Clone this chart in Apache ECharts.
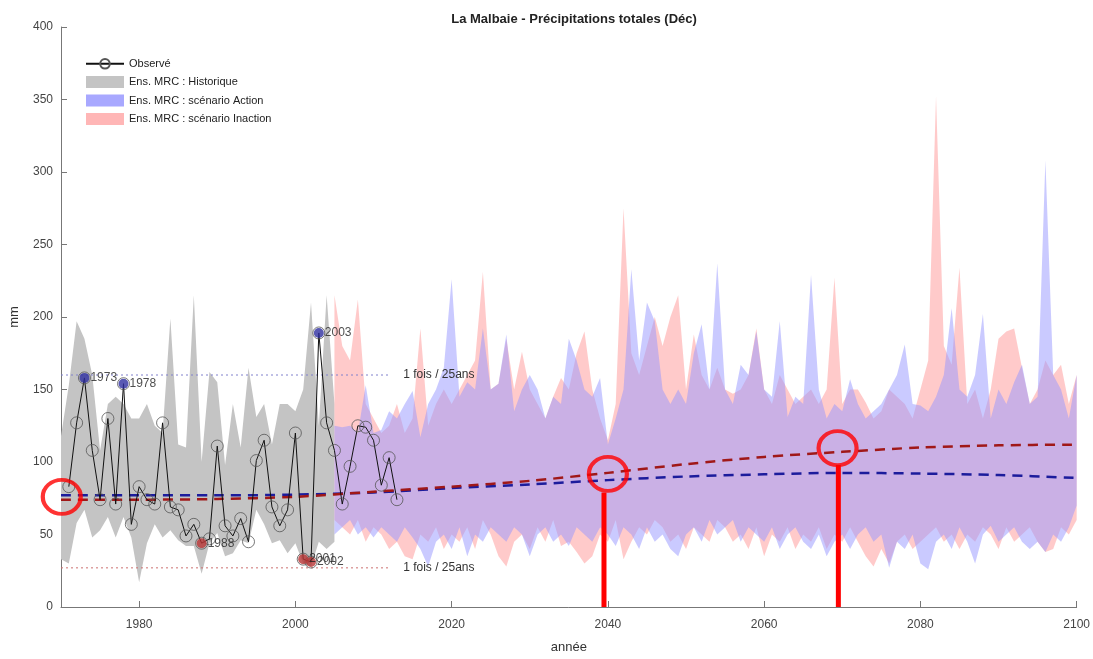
<!DOCTYPE html>
<html><head><meta charset="utf-8">
<script src="https://cdn.jsdelivr.net/npm/echarts@6/dist/echarts.min.js"></script>
<style>html,body{margin:0;padding:0;background:#fff}#c{width:1093px;height:659px}</style>
</head><body><div id="c"></div>
<script>
const chartTitle = 'La Malbaie - Précipitations totales (Déc)';
const xTickLabels = [1980, 2000, 2020, 2040, 2060, 2080, 2100];
const legendNames = ['Observé', 'Ens. MRC : Historique', 'Ens. MRC : scénario Action', 'Ens. MRC : scénario Inaction'];

// Observed December totals, 1971-2013 (mm)
const obsStart = 1971;
const observed = [83,127,158,108,74,130,71,154,57,83,
                  74,71,127,69,67,49,57,44,47,111,
                  56,49,61,45,101,115,69,56,67,120,
                  33,31,189,127,108,71,97,125,124,115,
                  84,103,74];
const maxYears = [1973, 1978, 2003];
const minYears = [1988, 2001, 2002];

// Historical ensemble envelope 1970-2005
const histStart = 1970;
const histUpper = [118,153,197,185,160,108,140,145,140,130,
                   130,140,125,120,199,112,110,215,100,162,
                   155,98,140,110,165,131,140,112,140,140,
                   135,150,210,125,215,140];
const histLower = [33,30,58,67,48,53,62,48,62,48,
                   17,44,57,48,53,46,42,42,23,44,
                   51,35,37,46,44,67,57,44,46,37,
                   44,30,28,45,40,45];

// Projected ensemble envelopes 2005-2100
const projStart = 2005;
const inactionUpper = [215,180,170,212,140,130,120,125,140,120,
                       130,192,125,140,150,140,150,160,170,231,
                       150,154,185,150,176,150,140,130,145,158,
                       150,175,190,150,130,115,140,275,175,160,
                       180,200,180,200,215,150,188,160,150,165,
                       150,147,150,160,192,150,140,160,150,140,
                       145,150,140,150,227,140,150,150,141,130,
                       135,150,145,140,130,150,170,352,180,167,
                       234,140,150,130,150,185,190,192,165,140,
                       150,170,160,167,140,160];
const inactionLower = [60,55,50,60,45,55,50,40,45,35,
                       33,50,45,55,40,50,45,55,40,60,
                       50,35,28,45,50,40,55,45,60,42,
                       45,38,30,35,50,45,60,33,45,55,
                       50,60,55,45,50,40,55,50,45,60,
                       55,45,50,40,55,35,50,45,55,40,
                       50,45,55,40,50,45,55,45,35,28,
                       40,30,45,50,40,45,50,55,45,50,
                       40,50,45,55,50,40,55,45,50,55,
                       45,38,40,55,50,60];
const actionUpper = [125,124,125,120,153,120,122,135,130,140,
                     149,117,140,150,165,226,145,155,150,192,
                     150,154,188,135,150,160,150,130,145,140,
                     185,170,150,145,158,112,130,150,233,170,
                     210,197,150,140,150,140,175,195,150,237,
                     150,140,167,160,190,150,145,197,131,145,
                     140,229,150,130,140,135,157,140,130,135,
                     140,150,160,181,140,139,135,145,160,206,
                     150,145,160,202,130,150,140,155,167,140,
                     145,308,160,150,130,160];
const actionLower = [50,55,60,50,55,48,55,50,45,55,
                     48,40,28,45,50,40,55,35,50,45,
                     55,50,45,55,50,35,50,55,45,50,
                     42,55,50,45,55,50,42,55,50,40,
                     55,45,50,40,35,50,55,45,60,50,
                     55,60,45,55,50,45,55,40,50,55,
                     45,40,50,35,45,50,40,50,55,45,
                     50,27,45,40,50,30,26,45,50,40,
                     55,45,30,50,56,45,50,55,45,40,
                     45,38,50,45,55,70];

// Trend lines (ensemble medians)
const trendYears = [1970,1980,1990,2000,2010,2020,2030,2040,2050,2060,2070,2080,2090,2100];
const trendAction = [77,77,77,77.5,79,82,84.5,87.5,90,91.5,92.5,92,91,89];
const trendInaction = [74,74,74.5,76,79.5,83,87,92.5,98.5,103.5,107,110,111.5,112];

// 25-year return levels
const rpHigh = 160, rpLow = 27, rpStartYear = 1970, rpEndYear = 2012;
const rpLabel = '1 fois / 25ans';

// Hand-drawn red annotations
const annotCircles = [[1970.1, 76], [2040, 91.8], [2069.4, 109.6]];
const annotStems = [[2039.5, 79], [2069.5, 98]];

const pairs = (start, arr) => arr.map((v, i) => [start + i, v]);
const obsAt = y => [y, observed[y - obsStart]];

const FONT = 'Liberation Sans, Arial, sans-serif';
const C_HIST = '#c4c4c4';
const C_RED = 'rgba(255,150,150,0.5)';
const C_BLUE = 'rgba(150,150,255,0.5)';

function band(name, start, up, lo, fill) {
  return {
    type: 'custom', name: name, color: fill, silent: true, z: 1, clip: true,
    data: up.map((v, i) => [start + i, lo[i], v]),
    encode: {x: 0, y: [1, 2]},
    renderItem: function (params, api) {
      if (params.dataIndex !== 0) return null;
      const pts = [];
      for (let i = 0; i < up.length; i++) pts.push(api.coord([start + i, up[i]]));
      for (let i = lo.length - 1; i >= 0; i--) pts.push(api.coord([start + i, lo[i]]));
      return {type: 'polygon', shape: {points: pts}, style: {fill: fill, stroke: null}};
    }
  };
}

const series = [
  band(legendNames[1], histStart, histUpper, histLower, C_HIST),
  band(legendNames[3], projStart, inactionUpper, inactionLower, C_RED),
  band(legendNames[2], projStart, actionUpper, actionLower, C_BLUE),
  {type: 'line', name: '_rpH', data: [[rpStartYear, rpHigh], [rpEndYear, rpHigh]], symbol: 'none',
   lineStyle: {type: [2, 3], width: 1, color: '#8080cc'}, z: 3,
   endLabel: {show: true, formatter: rpLabel, distance: 14, fontSize: 12, color: '#333', fontFamily: FONT}},
  {type: 'line', name: '_rpL', data: [[rpStartYear, rpLow], [rpEndYear, rpLow]], symbol: 'none',
   lineStyle: {type: [2, 3], width: 1, color: '#cc7070'}, z: 3,
   endLabel: {show: true, formatter: rpLabel, distance: 14, fontSize: 12, color: '#333', fontFamily: FONT}},
  {type: 'line', name: '_trA', data: trendYears.map((y, i) => [y, trendAction[i]]), smooth: 0.3, symbol: 'none',
   lineStyle: {type: [10, 7], width: 2.5, color: '#1c1c9c'}, z: 4},
  {type: 'line', name: '_trI', data: trendYears.map((y, i) => [y, trendInaction[i]]), smooth: 0.3, symbol: 'none',
   lineStyle: {type: [10, 7], width: 2.5, color: '#a01818'}, z: 4},
  {type: 'line', name: legendNames[0], data: pairs(obsStart, observed), symbol: 'circle', symbolSize: 12,
   itemStyle: {color: 'rgba(255,255,255,0)', borderColor: '#555', borderWidth: 0.8},
   lineStyle: {color: '#111', width: 1}, z: 5},
  {type: 'scatter', name: '_max', data: maxYears.map(obsAt), symbolSize: 10, itemStyle: {color: '#2e2ea0'}, z: 6,
   label: {show: true, position: 'right', distance: 1, formatter: p => p.value[0], fontSize: 12, color: '#222', fontFamily: FONT}},
  {type: 'scatter', name: '_min', data: minYears.map(obsAt), symbolSize: 10, itemStyle: {color: '#b83434'}, z: 6,
   label: {show: true, position: 'right', distance: 1, formatter: p => p.value[0], fontSize: 12, color: '#222', fontFamily: FONT}},
  {type: 'scatter', name: '_circ', data: annotCircles, symbol: 'circle', symbolSize: [38, 34], clip: false,
   itemStyle: {color: 'rgba(0,0,0,0)', borderColor: '#ff0000', borderWidth: 4}, z: 20},
  {type: 'line', name: '_st1', data: [[annotStems[0][0], 0], annotStems[0]], symbol: 'none',
   lineStyle: {color: '#ff0000', width: 5}, z: 20},
  {type: 'line', name: '_st2', data: [[annotStems[1][0], 0], annotStems[1]], symbol: 'none',
   lineStyle: {color: '#ff0000', width: 5}, z: 20}
];

const chart = echarts.init(document.getElementById('c'), null, {renderer: 'canvas'});
chart.setOption({
  animation: false,
  backgroundColor: '#fff',
  textStyle: {fontFamily: FONT},
  title: {text: chartTitle, left: 569, top: 8, textAlign: 'center',
          textStyle: {fontSize: 13, fontWeight: 'bold', color: '#222', fontFamily: FONT}},
  grid: {left: 60, right: 14, top: 27, bottom: 47, containLabel: false},
  legend: {
    orient: 'vertical', left: 80, top: 53, itemWidth: 38, itemHeight: 12, itemGap: 6.5,
    textStyle: {fontSize: 11, color: '#222', fontFamily: FONT},
    data: [
      {name: legendNames[0]},
      {name: legendNames[1], icon: 'rect', itemStyle: {color: C_HIST}},
      {name: legendNames[2], icon: 'rect', itemStyle: {color: 'rgb(168,168,255)'}},
      {name: legendNames[3], icon: 'rect', itemStyle: {color: 'rgb(255,182,182)'}}
    ]
  },
  xAxis: {
    type: 'value', min: 1970, max: 2100,
    name: 'année', nameLocation: 'middle', nameGap: 34,
    nameTextStyle: {fontSize: 13, color: '#333', fontFamily: FONT},
    axisLine: {show: true, onZero: false, lineStyle: {color: '#777', width: 1}},
    axisTick: {show: true, inside: true, length: 6, customValues: xTickLabels, lineStyle: {color: '#777'}},
    axisLabel: {customValues: xTickLabels, formatter: v => String(v), fontSize: 12, color: '#444', margin: 12, fontFamily: FONT},
    splitLine: {show: false}
  },
  yAxis: {
    type: 'value', min: 0, max: 400, interval: 50,
    name: 'mm', nameLocation: 'middle', nameGap: 40, nameRotate: 90,
    nameTextStyle: {fontSize: 13, color: '#333', fontFamily: FONT},
    axisLine: {show: true, lineStyle: {color: '#777', width: 1}},
    axisTick: {show: true, inside: true, length: 6, lineStyle: {color: '#777'}},
    axisLabel: {fontSize: 12, color: '#444', margin: 8, fontFamily: FONT},
    splitLine: {show: false}
  },
  series: series
});
</script>
</body></html>
